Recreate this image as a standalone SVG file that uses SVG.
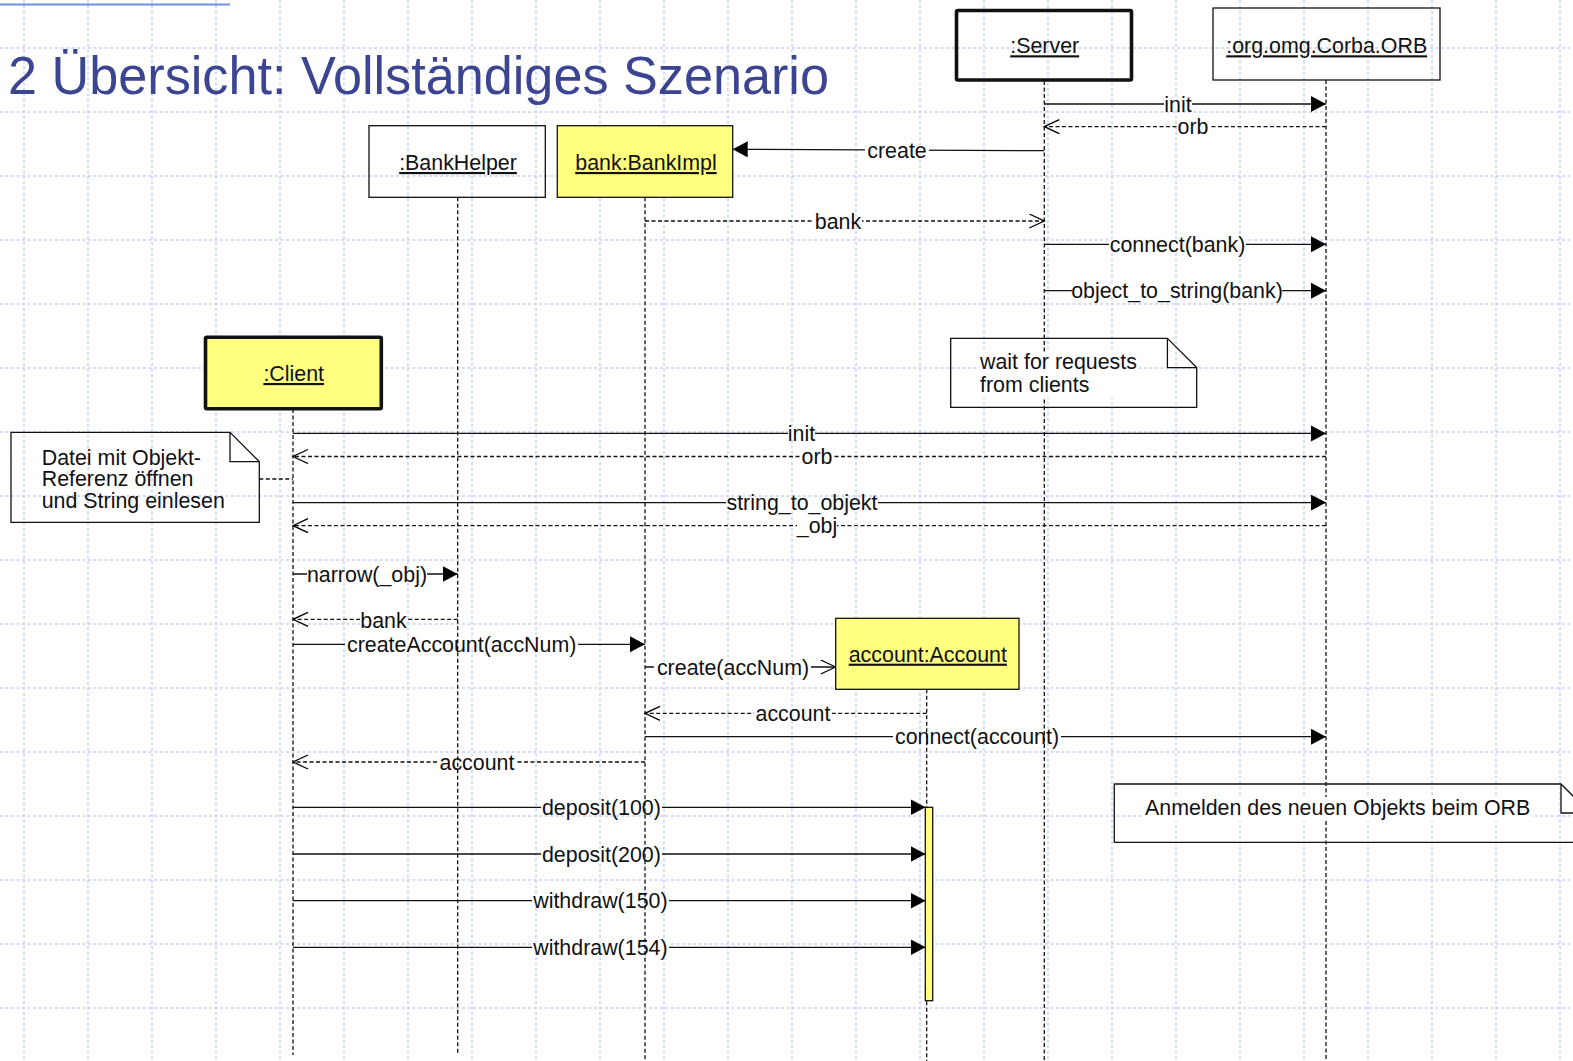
<svg xmlns="http://www.w3.org/2000/svg" width="1573" height="1061" viewBox="0 0 1573 1061">
  <style>
    text { font-family: "Liberation Sans", Arial, sans-serif; font-size: 21.4px; fill: #111; }
    .title { font-size: 54px; fill: #3c4592; }
    .obj { text-anchor: middle; text-decoration: underline; }
    .lbl { text-anchor: middle; }
    .box { fill: none; stroke: #111; stroke-width: 1.3; }
    .box.y { fill: #ffff80; }
    .box.thick { stroke-width: 3.6; }
    .life { stroke: #111; stroke-width: 1.3; stroke-dasharray: 4 2.5; fill: none; }
    .msg { stroke: #111; stroke-width: 1.3; fill: none; }
    .ret { stroke: #111; stroke-width: 1.3; fill: none; stroke-dasharray: 4 2.5; }
    .call { marker-end: url(#solidHead); }
    .open { marker-end: url(#openHead); }
    .gap { fill: #fff; }
    .note { fill: none; stroke: #111; stroke-width: 1.3; }
    .grid { stroke: #c4d4f8; stroke-width: 1.5; stroke-dasharray: 3 2.5; fill: none; }
  </style>
  <defs>
    <marker id="solidHead" markerUnits="userSpaceOnUse" markerWidth="16" markerHeight="17" refX="15" refY="8" orient="auto">
      <path d="M0,0 L15,8 L0,16 Z" fill="#000"/>
    </marker>
    <marker id="openHead" markerUnits="userSpaceOnUse" markerWidth="17" markerHeight="16" refX="15.5" refY="7.5" orient="auto">
      <path d="M0.5,0.5 L15.5,7.5 L0.5,14.5" fill="none" stroke="#000" stroke-width="1.3"/>
    </marker>
  </defs>

  <rect width="1573" height="1061" fill="#fff"/>

  <!-- background grid -->
  <g id="grid" class="grid">
    <path d="M24,0V1061 M88,0V1061 M152,0V1061 M216,0V1061 M280,0V1061 M344,0V1061 M408,0V1061 M472,0V1061 M536,0V1061 M600,0V1061 M664,0V1061 M728,0V1061 M792,0V1061 M856,0V1061 M920,0V1061 M984,0V1061 M1048,0V1061 M1112,0V1061 M1176,0V1061 M1240,0V1061 M1304,0V1061 M1368,0V1061 M1432,0V1061 M1496,0V1061 M1560,0V1061"/>
    <path d="M0,48H1573 M0,112H1573 M0,176H1573 M0,240H1573 M0,304H1573 M0,368H1573 M0,432H1573 M0,496H1573 M0,560H1573 M0,624H1573 M0,688H1573 M0,752H1573 M0,816H1573 M0,880H1573 M0,944H1573 M0,1008H1573"/>
  </g>

  <!-- heading -->
  <g id="heading">
    <line x1="0" y1="4.5" x2="230" y2="4.5" stroke="#6f8cf2" stroke-width="2"/>
    <text class="title" x="8" y="94" textLength="821" lengthAdjust="spacingAndGlyphs">2 Übersicht: Vollständiges Szenario</text>
  </g>

  <!-- messages -->
  <g id="connectors">
    <line class="msg call" x1="1044.3" y1="104" x2="1326" y2="104"/>
    <rect class="gap" x="1164" y="99" width="28" height="10"/>
    <text class="lbl" x="1178" y="111.5">init</text>

    <line class="ret open" x1="1326" y1="126.7" x2="1044.3" y2="126.7"/>
    <rect class="gap" x="1177" y="121.7" width="32" height="10"/>
    <text class="lbl" x="1193" y="134.2">orb</text>

    <line class="msg call" x1="1044.3" y1="150.7" x2="732.7" y2="149.3"/>
    <rect class="gap" x="865" y="145" width="64" height="10"/>
    <text class="lbl" x="897" y="157.5">create</text>

    <line class="ret open" x1="645" y1="221" x2="1044.3" y2="221"/>
    <rect class="gap" x="814" y="216" width="48" height="10"/>
    <text class="lbl" x="838" y="228.5">bank</text>

    <line class="msg call" x1="1044.3" y1="244.3" x2="1326" y2="244.3"/>
    <rect class="gap" x="1109" y="239.3" width="137" height="10"/>
    <text class="lbl" x="1177.5" y="251.8">connect(bank)</text>

    <line class="msg call" x1="1044.3" y1="290.7" x2="1326" y2="290.7"/>
    <rect class="gap" x="1072" y="285.7" width="210" height="10"/>
    <text class="lbl" x="1177" y="298.2">object_to_string(bank)</text>

    <line class="msg call" x1="293" y1="433.4" x2="1326" y2="433.4"/>
    <rect class="gap" x="788" y="428.4" width="27" height="10"/>
    <text class="lbl" x="801.5" y="440.9">init</text>

    <line class="ret open" x1="1326" y1="456.5" x2="293" y2="456.5"/>
    <rect class="gap" x="802" y="451.5" width="30" height="10"/>
    <text class="lbl" x="817" y="464">orb</text>

    <line class="msg call" x1="293" y1="502.6" x2="1326" y2="502.6"/>
    <rect class="gap" x="726" y="497.6" width="152" height="10"/>
    <text class="lbl" x="802" y="510.1">string_to_objekt</text>

    <line class="ret open" x1="1326" y1="525.7" x2="293" y2="525.7"/>
    <rect class="gap" x="797" y="520.7" width="40" height="10"/>
    <text class="lbl" x="817" y="533.2">_obj</text>

    <line class="ret" x1="259.3" y1="479" x2="293" y2="479"/>

    <line class="msg call" x1="293" y1="574" x2="457.7" y2="574"/>
    <rect class="gap" x="307" y="569" width="120" height="10"/>
    <text class="lbl" x="367" y="581.5">narrow(_obj)</text>

    <line class="ret open" x1="457.7" y1="619.3" x2="293" y2="619.3"/>
    <rect class="gap" x="360" y="614.3" width="47" height="10"/>
    <text class="lbl" x="383.5" y="628">bank</text>

    <line class="msg call" x1="293" y1="644.3" x2="645" y2="644.3"/>
    <rect class="gap" x="345" y="639.3" width="233" height="10"/>
    <text class="lbl" x="461.7" y="651.8">createAccount(accNum)</text>

    <line class="msg open" x1="645" y1="667" x2="835.7" y2="667"/>
    <rect class="gap" x="654" y="662" width="157" height="10"/>
    <text class="lbl" x="733" y="674.5">create(accNum)</text>

    <line class="ret open" x1="926.7" y1="713.3" x2="645" y2="713.3"/>
    <rect class="gap" x="754" y="708.3" width="78" height="10"/>
    <text class="lbl" x="793" y="720.8">account</text>

    <line class="msg call" x1="645" y1="736.7" x2="1326" y2="736.7"/>
    <rect class="gap" x="893" y="731.7" width="168" height="10"/>
    <text class="lbl" x="977" y="744.2">connect(account)</text>

    <line class="ret open" x1="645" y1="762" x2="293" y2="762"/>
    <rect class="gap" x="438" y="757" width="78" height="10"/>
    <text class="lbl" x="477" y="769.5">account</text>

    <line class="msg call" x1="293" y1="807.3" x2="925.5" y2="807.3"/>
    <rect class="gap" x="541" y="802.3" width="121" height="10"/>
    <text class="lbl" x="601.4" y="814.8">deposit(100)</text>

    <line class="msg call" x1="293" y1="854" x2="925.5" y2="854"/>
    <rect class="gap" x="541" y="849" width="121" height="10"/>
    <text class="lbl" x="601.4" y="861.5">deposit(200)</text>

    <line class="msg call" x1="293" y1="900.7" x2="925.5" y2="900.7"/>
    <rect class="gap" x="532" y="895.7" width="137" height="10"/>
    <text class="lbl" x="600.4" y="908.2">withdraw(150)</text>

    <line class="msg call" x1="293" y1="947.3" x2="925.5" y2="947.3"/>
    <rect class="gap" x="532" y="942.3" width="137" height="10"/>
    <text class="lbl" x="600.4" y="954.8">withdraw(154)</text>
  </g>

  <!-- participants with their lifelines -->
  <g id="server">
    <line class="life" x1="1044.3" y1="81" x2="1044.3" y2="1061"/>
    <rect class="box thick" x="956.5" y="10.5" width="175" height="69.5" rx="1.5"/>
    <text class="obj" x="1044.7" y="53.3">:Server</text>
  </g>
  <g id="orb">
    <line class="life" x1="1326" y1="80" x2="1326" y2="1061"/>
    <rect class="box" x="1213" y="8" width="227" height="72"/>
    <text class="obj" x="1326.7" y="53.3">:org.omg.Corba.ORB</text>
  </g>
  <g id="bankhelper">
    <line class="life" x1="457.7" y1="197.3" x2="457.7" y2="1055"/>
    <rect class="box" x="369" y="125.7" width="176.3" height="71.6"/>
    <text class="obj" x="458" y="170">:BankHelper</text>
  </g>
  <g id="bankimpl">
    <line class="life" x1="645" y1="197.3" x2="645" y2="1061"/>
    <rect class="box y" x="557.3" y="125.7" width="175.4" height="71.6"/>
    <text class="obj" x="646" y="170">bank:BankImpl</text>
  </g>
  <g id="client">
    <line class="life" x1="293" y1="409" x2="293" y2="1055"/>
    <rect class="box y thick" x="205.5" y="337.2" width="175.8" height="71.6" rx="1.5"/>
    <text class="obj" x="293.7" y="381">:Client</text>
  </g>
  <g id="account">
    <line class="life" x1="926.7" y1="689.3" x2="926.7" y2="1061"/>
    <rect class="box y" x="835.7" y="618.3" width="183.3" height="71"/>
    <text class="obj" x="927.8" y="661.7">account:Account</text>
    <rect class="box y" x="925.3" y="807.3" width="7.4" height="193.4"/>
  </g>

  <!-- comments -->
  <g id="note-wait">
    <path class="note" d="M950.7,338.3 H1167.4 L1196.7,367.6 V407.3 H950.7 Z M1167.4,338.3 V367.6 H1196.7"/>
    <rect fill="#fff" x="978" y="352" width="160" height="45"/>
    <text x="980" y="369.3">wait for requests</text>
    <text x="980" y="391.7">from clients</text>
  </g>
  <g id="note-datei">
    <path class="note" d="M11,432.3 H230 L259.3,461.6 V522.3 H11 Z M230,432.3 V461.6 H259.3"/>
    <text x="41.7" y="464.5">Datei mit Objekt-</text>
    <text x="41.7" y="486">Referenz öffnen</text>
    <text x="41.7" y="507.5">und String einlesen</text>
  </g>
  <g id="note-anmelden">
    <path class="note" d="M1114.3,784 H1561 L1590,813 V842.3 H1114.3 Z M1561,784 V813 H1590"/>
    <rect fill="#fff" x="1143" y="797" width="388" height="24"/>
    <text x="1145" y="815">Anmelden des neuen Objekts beim ORB</text>
  </g>
</svg>
